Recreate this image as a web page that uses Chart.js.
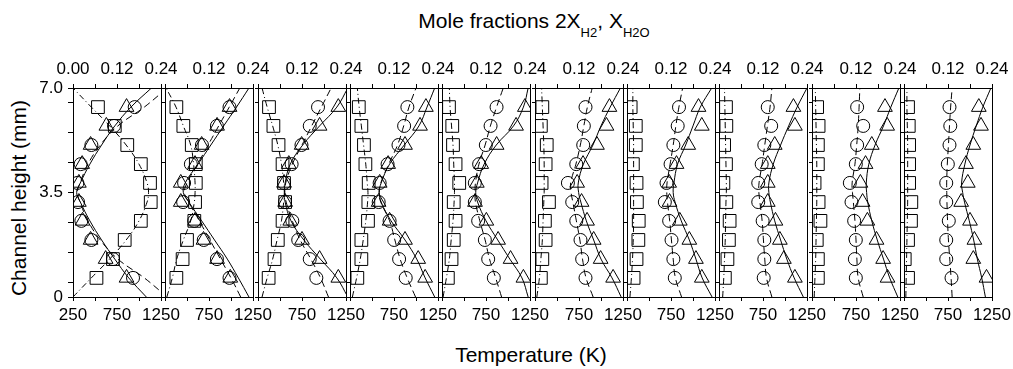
<!DOCTYPE html>
<html>
<head>
<meta charset="utf-8">
<script src="https://cdn.jsdelivr.net/npm/chart.js@4.4.1/dist/chart.umd.min.js"></script>
<style>
  body { margin: 0; background: #fff; width: 1013px; height: 369px; overflow: hidden; position: relative;
         font-family: "Liberation Sans", Arial, sans-serif; color: #000; }
  canvas { position: absolute; top: 0; }
  .lbl { position: absolute; font-size: 21px; line-height: 21px; text-align: center; white-space: nowrap; }
  .lbl sub { font-size: 13px; position: relative; top: 9px; vertical-align: baseline; line-height: 0; }
</style>
</head>
<body>
<div class="lbl" style="left:234px; top:10px; width:600px;">Mole fractions 2X<sub>H2</sub>, X<sub>H2O</sub></div>
<div class="lbl" style="left:231px; top:344px; width:600px;">Temperature (K)</div>
<div class="lbl" style="left:-131px; top:186px; width:300px; height:24px; line-height:24px; transform:rotate(-90deg);">Channel height (mm)</div>

<script>
// heights of the measuring points and of the model curves (mm)
const heights = [0.64, 1.27, 1.91, 2.55, 3.18, 3.82, 4.45, 5.09, 5.73, 6.36];
const modelHeights = [0, 0.64, 1.27, 1.91, 2.55, 3.18, 3.5, 3.82, 4.45, 5.09, 5.73, 6.36, 7];

// tick labels
const bottomTickLabels = ["250", "750", "1250"];
const topTickLabels = ["0.00", "0.12", "0.24"];
const yTickLabels = ["0", "3.5", "7.0"];

// measured temperature (K), one row per panel, bottom to top
const tempMeasured = [
  [932, 705, 459, 345, 307, 300, 337, 459, 716, 951],
  [983, 840, 690, 582, 456, 467, 544, 670, 840, 983],
  [913, 838, 707, 640, 557, 546, 632, 744, 838, 932],
  [883, 808, 752, 700, 576, 587, 677, 801, 865, 902],
  [839, 775, 737, 661, 623, 623, 672, 748, 802, 870],
  [824, 786, 767, 719, 673, 624, 719, 798, 805, 824],
  [793, 777, 756, 729, 680, 699, 745, 777, 826, 841],
  [758, 765, 765, 746, 696, 696, 735, 765, 843, 804],
  [748, 737, 748, 729, 699, 680, 748, 763, 832, 763],
  [790, 730, 730, 759, 730, 730, 748, 767, 776, 767]
];
// measured 2X_H2
const h2Measured = [
  [0.064, 0.109, 0.141, 0.185, 0.212, 0.210, 0.185, 0.148, 0.114, 0.068],
  [0.031, 0.048, 0.060, 0.080, 0.082, 0.084, 0.084, 0.073, 0.050, 0.031],
  [0.029, 0.045, 0.054, 0.067, 0.074, 0.071, 0.067, 0.056, 0.042, 0.030],
  [0.020, 0.031, 0.031, 0.049, 0.050, 0.051, 0.042, 0.038, 0.031, 0.024],
  [0.016, 0.026, 0.032, 0.037, 0.032, 0.047, 0.037, 0.030, 0.028, 0.019],
  [0.016, 0.020, 0.029, 0.027, 0.038, 0.018, 0.029, 0.032, 0.016, 0.020],
  [0.018, 0.026, 0.031, 0.032, 0.027, 0.026, 0.016, 0.024, 0.024, 0.010],
  [0.016, 0.023, 0.027, 0.029, 0.020, 0.012, 0.019, 0.014, 0.020, 0.019],
  [0.016, 0.016, 0.013, 0.023, 0.018, 0.007, 0.016, 0.016, 0.018, 0.014],
  [0.011, 0.002, 0.011, 0.019, 0.020, 0.014, 0.014, 0.014, 0.013, 0.011]
];
// measured X_H2O
const h2oMeasured = [
  [0.146, 0.089, 0.048, 0.026, 0.016, 0.016, 0.025, 0.048, 0.091, 0.146],
  [0.178, 0.142, 0.105, 0.082, 0.043, 0.043, 0.082, 0.100, 0.142, 0.176],
  [0.219, 0.168, 0.120, 0.088, 0.074, 0.071, 0.084, 0.119, 0.168, 0.219],
  [0.205, 0.186, 0.150, 0.108, 0.078, 0.081, 0.104, 0.150, 0.191, 0.207],
  [0.222, 0.187, 0.153, 0.121, 0.090, 0.095, 0.107, 0.149, 0.202, 0.226],
  [0.213, 0.179, 0.160, 0.142, 0.127, 0.115, 0.131, 0.169, 0.195, 0.203],
  [0.204, 0.188, 0.170, 0.144, 0.116, 0.115, 0.135, 0.167, 0.204, 0.195],
  [0.207, 0.177, 0.166, 0.154, 0.133, 0.133, 0.133, 0.152, 0.207, 0.203],
  [0.206, 0.194, 0.176, 0.151, 0.138, 0.132, 0.146, 0.163, 0.205, 0.199],
  [0.225, 0.189, 0.192, 0.180, 0.156, 0.174, 0.169, 0.189, 0.210, 0.204]
];

// model curves (values at modelHeights)
const tempModel = [
  [1320, 1060, 760, 560, 420, 330, 300, 330, 420, 560, 760, 1060, 1320],
  [1110, 1000, 880, 760, 640, 520, 470, 500, 620, 740, 860, 980, 1100],
  [1051, 960, 850, 730, 640, 570, 555, 565, 640, 750, 860, 970, 1081],
  [995, 900, 820, 760, 700, 600, 580, 600, 690, 790, 860, 920, 1000],
  [927, 860, 790, 740, 680, 630, 625, 630, 670, 740, 800, 870, 946],
  [911, 830, 790, 760, 720, 680, 660, 655, 715, 765, 805, 845, 900],
  [870, 800, 775, 755, 735, 710, 702, 705, 740, 775, 805, 840, 882],
  [851, 790, 770, 755, 740, 715, 703, 705, 740, 770, 800, 830, 851],
  [832, 775, 760, 750, 738, 720, 710, 706, 738, 758, 775, 785, 794],
  [797, 785, 770, 755, 745, 738, 736, 735, 742, 755, 767, 780, 797]
];
const h2Model = [
  [0.000, 0.050, 0.100, 0.145, 0.180, 0.202, 0.206, 0.202, 0.180, 0.145, 0.100, 0.050, 0.000],
  [0.005, 0.020, 0.032, 0.050, 0.070, 0.080, 0.082, 0.082, 0.078, 0.070, 0.050, 0.030, 0.003],
  [0.011, 0.025, 0.040, 0.052, 0.064, 0.070, 0.072, 0.070, 0.064, 0.054, 0.040, 0.025, 0.011],
  [0.0065, 0.018, 0.028, 0.036, 0.043, 0.048, 0.049, 0.047, 0.043, 0.037, 0.031, 0.025, 0.020],
  [0.003, 0.012, 0.020, 0.025, 0.030, 0.033, 0.034, 0.034, 0.032, 0.030, 0.026, 0.022, 0.020],
  [0.005, 0.012, 0.016, 0.020, 0.022, 0.024, 0.025, 0.025, 0.025, 0.024, 0.022, 0.020, 0.018],
  [0.008, 0.012, 0.015, 0.017, 0.018, 0.018, 0.018, 0.018, 0.018, 0.018, 0.017, 0.016, 0.016],
  [0.010, 0.013, 0.015, 0.017, 0.018, 0.019, 0.020, 0.020, 0.019, 0.018, 0.017, 0.016, 0.015],
  [0.006, 0.008, 0.010, 0.011, 0.012, 0.013, 0.013, 0.013, 0.013, 0.012, 0.011, 0.010, 0.009],
  [0.005, 0.006, 0.007, 0.008, 0.009, 0.010, 0.010, 0.010, 0.010, 0.010, 0.009, 0.008, 0.008]
];
const h2oModel = [
  [0.200, 0.152, 0.114, 0.078, 0.046, 0.020, 0.010, 0.020, 0.046, 0.078, 0.114, 0.158, 0.214],
  [0.229, 0.200, 0.170, 0.135, 0.100, 0.065, 0.050, 0.055, 0.090, 0.125, 0.160, 0.195, 0.229],
  [0.245, 0.215, 0.170, 0.125, 0.090, 0.074, 0.072, 0.074, 0.088, 0.122, 0.168, 0.215, 0.245],
  [0.231, 0.205, 0.182, 0.150, 0.112, 0.085, 0.080, 0.085, 0.108, 0.148, 0.188, 0.210, 0.231],
  [0.235, 0.218, 0.185, 0.152, 0.120, 0.097, 0.092, 0.097, 0.115, 0.148, 0.195, 0.222, 0.235],
  [0.235, 0.210, 0.180, 0.160, 0.140, 0.125, 0.119, 0.118, 0.132, 0.158, 0.180, 0.205, 0.233],
  [0.232, 0.205, 0.188, 0.170, 0.148, 0.131, 0.126, 0.128, 0.138, 0.160, 0.180, 0.200, 0.231],
  [0.230, 0.205, 0.185, 0.168, 0.152, 0.140, 0.136, 0.136, 0.148, 0.168, 0.190, 0.213, 0.240],
  [0.234, 0.212, 0.195, 0.178, 0.163, 0.152, 0.149, 0.148, 0.155, 0.172, 0.195, 0.215, 0.237],
  [0.222, 0.212, 0.200, 0.190, 0.178, 0.165, 0.160, 0.157, 0.166, 0.180, 0.197, 0.215, 0.237]
];

// layout of the panels (pixels)
const panelLeft0 = 73, panelStep = 92.33, panelWidth = 88;
const plotTop = 88, plotBottom = 297, pageH = 369;
const padL = 40, padR = 30;

Chart.defaults.font.family = '"Liberation Sans", Arial, sans-serif';
Chart.defaults.font.size = 17;
Chart.defaults.color = "#000";

// frame round each panel
const framePlugin = {
  id: "frame",
  afterDatasetsDraw(chart) {
    const a = chart.chartArea, ctx = chart.ctx;
    ctx.save();
    ctx.strokeStyle = "#000";
    ctx.lineWidth = 1;
    ctx.strokeRect(Math.round(a.left) + 0.5, Math.round(a.top) + 0.5,
                   Math.round(a.right - a.left), Math.round(a.bottom - a.top));
    ctx.restore();
  }
};

function pts(xs, ys) {
  return xs.map((v, i) => ({ x: v, y: ys[i] }));
}

function makePanel(p) {
  const cv = document.createElement("canvas");
  const w = panelWidth + padL + padR;
  cv.width = w; cv.height = pageH;
  cv.style.left = Math.round(panelLeft0 + p * panelStep - padL) + "px";
  document.body.appendChild(cv);

  const marker = (style, r) => ({
    pointStyle: style, pointRadius: r, borderColor: "#000",
    backgroundColor: "rgba(0,0,0,0)", borderWidth: 1, showLine: false
  });
  const curve = (dash) => ({
    showLine: true, pointRadius: 0, borderColor: "#000", borderWidth: 1,
    borderDash: dash, tension: 0.4, fill: false
  });

  new Chart(cv, {
    type: "scatter",
    data: {
      datasets: [
        Object.assign({ data: pts(tempMeasured[p], heights), xAxisID: "x" }, marker("circle", 6.5)),
        Object.assign({ data: pts(h2Measured[p], heights), xAxisID: "x2" }, marker("rect", 9)),
        Object.assign({ data: pts(h2oMeasured[p], heights), xAxisID: "x2" }, marker("triangle", 8.5)),
        Object.assign({ data: pts(h2oModel[p], modelHeights), xAxisID: "x2" }, curve([])),
        Object.assign({ data: pts(tempModel[p], modelHeights), xAxisID: "x" }, curve([7, 4])),
        Object.assign({ data: pts(h2Model[p], modelHeights), xAxisID: "x2" }, curve([6, 3, 1, 3]))
      ]
    },
    options: {
      responsive: false,
      devicePixelRatio: 1,
      animation: false,
      events: [],
      layout: { padding: { left: 0, right: padR, top: 0, bottom: 0 } },
      plugins: { legend: { display: false }, tooltip: { enabled: false } },
      scales: {
        x: {
          type: "linear", position: "bottom", min: 250, max: 1250,
          border: { display: false },
          grid: { drawOnChartArea: false, drawTicks: true, tickLength: 4, color: "#000" },
          ticks: {
            stepSize: 250, autoSkip: false, maxRotation: 0, padding: 4,
            callback: (v) => {
              if (v === 250) return p === 0 ? bottomTickLabels[0] : "";
              if (v === 750) return bottomTickLabels[1];
              if (v === 1250) return bottomTickLabels[2];
              return "";
            }
          },
          afterFit: (s) => { s.height = pageH - plotBottom; }
        },
        x2: {
          type: "linear", position: "top", min: 0, max: 0.24,
          border: { display: false },
          grid: { drawOnChartArea: false, drawTicks: true, tickLength: 4, color: "#000" },
          ticks: {
            stepSize: 0.06, autoSkip: false, maxRotation: 0, padding: 4,
            callback: (v) => {
              if (Math.abs(v) < 1e-6) return p === 0 ? topTickLabels[0] : "";
              if (Math.abs(v - 0.12) < 1e-6) return topTickLabels[1];
              if (Math.abs(v - 0.24) < 1e-6) return topTickLabels[2];
              return "";
            }
          },
          afterFit: (s) => { s.height = plotTop; }
        },
        y: {
          type: "linear", position: "left", min: 0, max: 7,
          border: { display: false },
          grid: {
            drawOnChartArea: false, drawTicks: true, tickLength: p === 0 ? 5 : 3,
            color: (c) => {
              const v = c.tick ? c.tick.value : 0;
              return (Math.abs(v % 1 - 0.5) < 1e-6 || v === 0 || v === 7) ? "#000" : "rgba(0,0,0,0)";
            }
          },
          ticks: {
            stepSize: 0.5, autoSkip: false, padding: 5,
            callback: (v) => {
              if (p !== 0) return "";
              if (v === 0) return yTickLabels[0];
              if (v === 3.5) return yTickLabels[1];
              if (v === 7) return yTickLabels[2];
              return "";
            }
          },
          afterFit: (s) => { s.width = padL; }
        }
      }
    },
    plugins: [framePlugin]
  });
}

for (let p = 0; p < 10; p++) makePanel(p);
</script>
</body>
</html>
